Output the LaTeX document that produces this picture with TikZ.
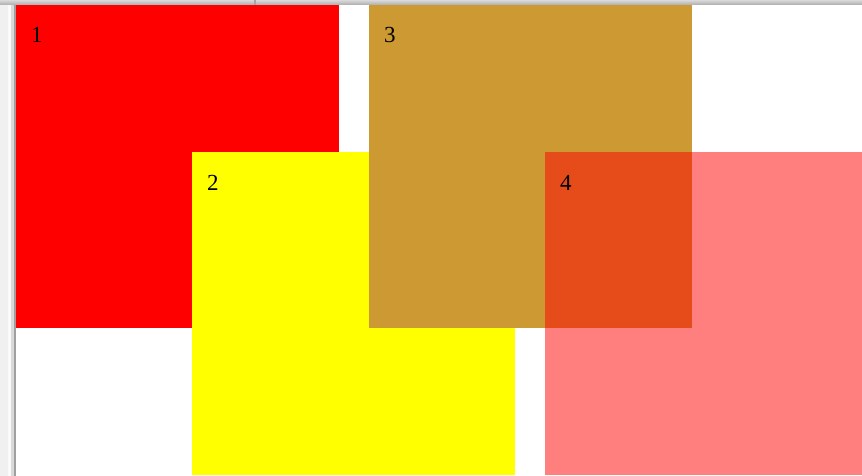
\documentclass[tikz,border=0pt]{standalone}
\usepackage{fontspec}
\setmainfont{Liberation Serif}
\usetikzlibrary{positioning, calc}
\definecolor{boxred}{RGB}{255,0,0}
\definecolor{boxyellow}{RGB}{255,255,0}
\definecolor{boxbrown}{RGB}{204,153,51}
\definecolor{chromegray}{RGB}{240,240,240}

\begin{document}
\begin{tikzpicture}[
    x=1pt, y=-1pt,
    box/.style={rectangle, fill=#1, draw=none, inner sep=0pt, minimum width=322.5pt, minimum height=323pt, anchor=north west},
    box/.default=white,
    num/.style={anchor=base west, inner sep=0pt, font=\fontsize{23}{27}\selectfont}
]

% Page frame
\useasboundingbox (0,0) rectangle (862,476);
\clip (0,0) rectangle (862,476);
\fill[white] (0,0) rectangle (862,476);

% Boxes
\node[box=boxred] (box1) at (16,5) {};
\node[box=boxyellow] (box2) at (192,152) {};
\node[box=boxbrown, right=30pt of box1.north east, anchor=north west] (box3) {};
\node[box=boxred, fill opacity=0.5, right=30pt of box2.north east, anchor=north west] (box4) {};

% Numbers
\node[num] (num1) at ($(box1.north west)+(15,38)$) {1};
\node[num] (num2) at ($(box2.north west)+(15,38)$) {2};
\node[num] (num3) at ($(box3.north west)+(15,38)$) {3};
\node[num] (num4) at ($(box4.north west)+(15,38)$) {4};

% Window chrome
\shade[top color=gray!30, bottom color=gray!65] (0,0) rectangle (862,5);
\fill[chromegray] (0,5) rectangle (16,476);
\fill[white!70!chromegray] (8,5) rectangle (11,476);
\fill[gray!30] (11,5) rectangle (14,476);
\fill[gray!75] (14,5) rectangle (16,476);
\fill[gray!70] (254,0) rectangle (256,5);

\end{tikzpicture}
\end{document}
